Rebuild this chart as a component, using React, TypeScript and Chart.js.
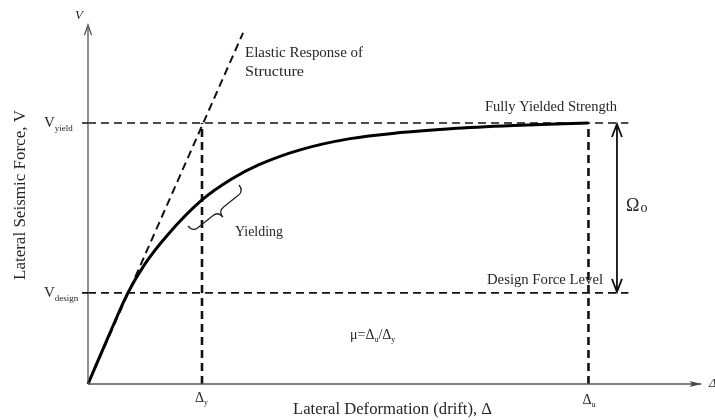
import React, { useEffect, useRef } from "react";
import { Chart, registerables } from "chart.js";

Chart.register(...registerables);

// Force–deformation curve (Δ in units of Δy, V in units of Vyield)
const curveX = [0, 0.19, 0.35, 0.5, 0.7, 1.0, 1.26, 1.5, 1.86, 2.3, 2.74, 3.18, 3.73, 4.39];
const curveY = [0, 0.193, 0.349, 0.46, 0.572, 0.705, 0.785, 0.84, 0.897, 0.94, 0.963, 0.978, 0.99, 1.0];

// Elastic response line
const elasticX = [0, 1.36];
const elasticY = [0, 1.345];

// Reference levels
const yieldLevel = 1.0;
const designLevel = 0.349;
const deltaY = 1.0;
const deltaU = 4.39;
const levelLineEnd = 4.74;
const omegaX = 4.64;
const axisXEnd = 5.38;
const axisYEnd = 1.375;

// Text labels
const yAxisTitle = "Lateral Seismic Force, V";
const xAxisTitle = "Lateral Deformation (drift), Δ";
const elasticLabel = ["Elastic Response of", "Structure"];
const yieldLabel = "Fully Yielded Strength";
const designLabel = "Design Force Level";
const yieldingLabel = "Yielding";

const SERIF = '"Liberation Serif", "Times New Roman", serif';
const TXT = "#262626";

type Seg = { t: string; sub?: boolean };

function drawSegs(ctx: CanvasRenderingContext2D, segs: Seg[], x: number, y: number, size: number, subSize: number) {
  let cx = x;
  ctx.textBaseline = "middle";
  ctx.textAlign = "left";
  for (const s of segs) {
    if (s.sub) {
      ctx.font = `${subSize}px ${SERIF}`;
      ctx.fillText(s.t, cx, y + size * 0.35);
    } else {
      ctx.font = `${size}px ${SERIF}`;
      ctx.fillText(s.t, cx, y);
    }
    cx += ctx.measureText(s.t).width;
  }
}

// draw text at a given font size, squeezed/stretched horizontally to a target width
function fitText(ctx: CanvasRenderingContext2D, text: string, x: number, y: number, size: number, width: number) {
  ctx.save();
  ctx.font = `${size}px ${SERIF}`;
  ctx.textAlign = "left";
  ctx.textBaseline = "middle";
  const w = ctx.measureText(text).width;
  ctx.translate(x, y);
  ctx.scale(width / w, 1);
  ctx.fillText(text, 0, 0);
  ctx.restore();
}

const overlay = {
  id: "overlay",
  afterDatasetsDraw(chart: any) {
    const ctx: CanvasRenderingContext2D = chart.ctx;
    const xs = chart.scales.x;
    const ys = chart.scales.y;
    const px = (v: number) => xs.getPixelForValue(v);
    const py = (v: number) => ys.getPixelForValue(v);
    const ox = px(0);
    const oy = py(0);

    ctx.save();
    // Axes
    ctx.strokeStyle = "#555";
    ctx.lineWidth = 1.3;
    ctx.setLineDash([]);
    ctx.beginPath();
    ctx.moveTo(ox, oy);
    ctx.lineTo(ox, py(axisYEnd));
    ctx.moveTo(ox, oy);
    ctx.lineTo(px(axisXEnd), oy);
    ctx.stroke();
    // small ticks at the two levels
    ctx.strokeStyle = "#111";
    ctx.lineWidth = 1.6;
    ctx.beginPath();
    ctx.moveTo(ox - 6, py(yieldLevel));
    ctx.lineTo(ox, py(yieldLevel));
    ctx.moveTo(ox - 6, py(designLevel));
    ctx.lineTo(ox, py(designLevel));
    ctx.stroke();
    // Y arrow (open)
    ctx.strokeStyle = "#555";
    ctx.lineWidth = 1.3;
    const yt = py(axisYEnd);
    ctx.beginPath();
    ctx.moveTo(ox - 3.5, yt + 10);
    ctx.lineTo(ox, yt);
    ctx.lineTo(ox + 3.5, yt + 10);
    ctx.stroke();
    // X arrow (filled)
    const xt = px(axisXEnd);
    ctx.fillStyle = "#444";
    ctx.beginPath();
    ctx.moveTo(xt, oy);
    ctx.lineTo(xt - 12, oy - 3);
    ctx.lineTo(xt - 9, oy);
    ctx.lineTo(xt - 12, oy + 3);
    ctx.closePath();
    ctx.fill();

    // Omega double arrow
    const wx = px(omegaX);
    const wt = py(yieldLevel) + 1;
    const wb = py(designLevel) - 1;
    ctx.strokeStyle = "#111";
    ctx.lineWidth = 1.8;
    ctx.beginPath();
    ctx.moveTo(wx, wt);
    ctx.lineTo(wx, wb);
    ctx.moveTo(wx - 5, wt + 13);
    ctx.lineTo(wx, wt);
    ctx.lineTo(wx + 5, wt + 13);
    ctx.moveTo(wx - 5, wb - 13);
    ctx.lineTo(wx, wb);
    ctx.lineTo(wx + 5, wb - 13);
    ctx.stroke();

    // Brace ("Yielding")
    const A = { x: 239, y: 185 };
    const B = { x: 188, y: 226 };
    const dx = B.x - A.x, dy = B.y - A.y;
    const L = Math.hypot(dx, dy);
    const u = { x: dx / L, y: dy / L };
    const n = { x: -u.y, y: u.x };
    const nn = n.x + n.y > 0 ? n : { x: -n.x, y: -n.y };
    const h = 15;
    const P = (s: number, t: number) => ({ x: A.x + u.x * s * L + nn.x * t, y: A.y + u.y * s * L + nn.y * t });
    ctx.strokeStyle = "#222";
    ctx.lineWidth = 1.3;
    ctx.beginPath();
    let p = P(0, 0);
    ctx.moveTo(p.x, p.y);
    let c = P(0, h / 2), e = P(0.1, h / 2);
    ctx.quadraticCurveTo(c.x, c.y, e.x, e.y);
    e = P(0.4, h / 2);
    ctx.lineTo(e.x, e.y);
    c = P(0.5, h / 2); e = P(0.5, h);
    ctx.quadraticCurveTo(c.x, c.y, e.x, e.y);
    c = P(0.5, h / 2); e = P(0.6, h / 2);
    ctx.quadraticCurveTo(c.x, c.y, e.x, e.y);
    e = P(0.9, h / 2);
    ctx.lineTo(e.x, e.y);
    c = P(1, h / 2); e = P(1, 0);
    ctx.quadraticCurveTo(c.x, c.y, e.x, e.y);
    ctx.stroke();

    // Texts
    ctx.fillStyle = TXT;
    ctx.textBaseline = "middle";
    ctx.textAlign = "center";
    ctx.font = `italic 13px ${SERIF}`;
    ctx.fillText("V", ox - 9, 16);

    fitText(ctx, elasticLabel[0], 245, 53, 15, 118);
    fitText(ctx, elasticLabel[1], 245, 72, 15, 59);
    fitText(ctx, yieldLabel, 485, py(yieldLevel) - 16, 15.5, 132);
    fitText(ctx, designLabel, 487, py(designLevel) - 13, 15.5, 116);
    fitText(ctx, yieldingLabel, 235, 232, 15, 48);

    // Omega
    ctx.fillStyle = TXT;
    ctx.textAlign = "left";
    ctx.textBaseline = "middle";
    ctx.font = `18px ${SERIF}`;
    ctx.fillText("Ω", 626, 206);
    const ow = ctx.measureText("Ω").width;
    ctx.font = `14px ${SERIF}`;
    ctx.fillText("o", 626 + ow + 1, 208);

    drawSegs(ctx, [{ t: "V" }, { t: "yield", sub: true }], 44, py(yieldLevel), 15, 9);
    drawSegs(ctx, [{ t: "V" }, { t: "design", sub: true }], 44, py(designLevel), 15, 9);
    drawSegs(ctx, [{ t: "Δ" }, { t: "y", sub: true }], px(deltaY) - 7, oy + 14, 14, 8);
    drawSegs(ctx, [{ t: "Δ" }, { t: "u", sub: true }], px(deltaU) - 6, oy + 16, 14, 8);
    drawSegs(ctx, [{ t: "μ=Δ" }, { t: "u", sub: true }, { t: "/Δ" }, { t: "y", sub: true }], 350, 335, 14, 8);

    ctx.font = `italic 13px ${SERIF}`;
    ctx.textAlign = "left";
    ctx.fillText("Δ", 709, oy);

    fitText(ctx, xAxisTitle, 293, 410, 17, 199);

    ctx.translate(21, 195);
    ctx.rotate(-Math.PI / 2);
    fitText(ctx, yAxisTitle, -85, 0, 17, 170);
    ctx.restore();
  },
};

export default function App() {
  const ref = useRef<HTMLCanvasElement | null>(null);

  useEffect(() => {
    if (!ref.current) return;
    const pts = (xs: number[], ys: number[]) => xs.map((x, i) => ({ x, y: ys[i] }));
    const dashed = (data: { x: number; y: number }[], width: number, order: number) => ({
      data,
      showLine: true,
      borderColor: "#111",
      borderWidth: width,
      borderDash: [8, 5],
      pointRadius: 0,
      clip: false,
      order,
    });
    const chart = new Chart(ref.current, {
      type: "scatter",
      data: {
        datasets: [
          {
            data: pts(curveX, curveY),
            showLine: true,
            borderColor: "#000",
            borderWidth: 3,
            pointRadius: 0,
            cubicInterpolationMode: "monotone",
            clip: false,
            order: 0,
          } as any,
          dashed(pts(elasticX, elasticY), 2, 1),
          dashed([{ x: 0, y: yieldLevel }, { x: levelLineEnd, y: yieldLevel }], 1.6, 2),
          dashed([{ x: 0, y: designLevel }, { x: levelLineEnd, y: designLevel }], 1.6, 3),
          dashed([{ x: deltaY, y: 0 }, { x: deltaY, y: yieldLevel }], 2.6, 4),
          dashed([{ x: deltaU, y: 0 }, { x: deltaU, y: yieldLevel }], 2.6, 5),
        ],
      },
      options: {
        animation: false,
        responsive: true,
        maintainAspectRatio: false,
        layout: { padding: { left: 88, right: 0, top: 0, bottom: 36 } },
        plugins: { legend: { display: false }, tooltip: { enabled: false } },
        scales: {
          x: { type: "linear", min: 0, max: 5.5, display: false },
          y: { type: "linear", min: 0, max: 1.471, display: false },
        },
      },
      plugins: [overlay],
    });
    return () => chart.destroy();
  }, []);

  return (
    <div style={{ position: "fixed", left: 0, top: 0, width: 715, height: 420, background: "#fff" }}>
      <canvas ref={ref} />
    </div>
  );
}
